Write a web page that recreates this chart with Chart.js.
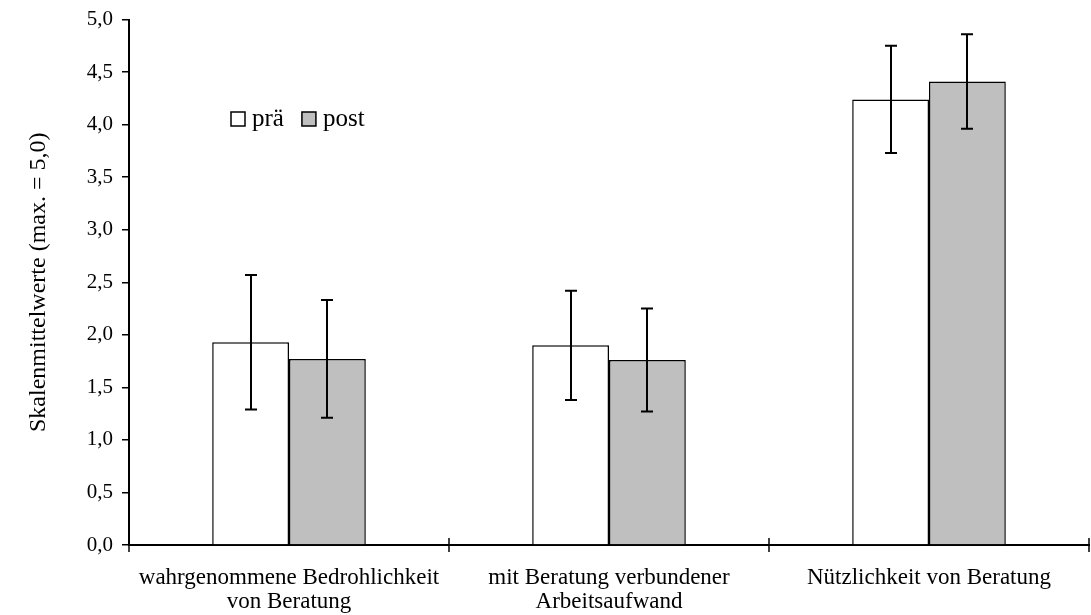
<!DOCTYPE html>
<html>
<head>
<meta charset="utf-8">
<script src="https://cdn.jsdelivr.net/npm/chart.js@4/dist/chart.umd.min.js"></script>
<style>
  html, body { margin: 0; padding: 0; background: #ffffff; }
  #wrap { width: 1091px; height: 615px; }
</style>
</head>
<body>
<div id="wrap"><canvas id="c" width="1091" height="615"></canvas></div>
<script>
const categories = [
  ["wahrgenommene Bedrohlichkeit", "von Beratung"],
  ["mit Beratung verbundener", "Arbeitsaufwand"],
  "Nützlichkeit von Beratung"
];
const seriesLabels = ["prä", "post"];
const praeMeans = [1.93, 1.90, 4.24];
const praeSD    = [0.64, 0.52, 0.51];
const postMeans = [1.77, 1.76, 4.41];
const postSD    = [0.56, 0.49, 0.45];
const yTickMin = 0, yTickMax = 5, yTickStep = 0.5;

const FONT = "'Liberation Serif', 'Times New Roman', serif";

const errorBarPlugin = {
  id: 'errorBars',
  afterDatasetsDraw(chart) {
    const ctx = chart.ctx;
    const y = chart.scales.y;
    ctx.save();
    ctx.strokeStyle = '#000';
    ctx.lineWidth = 2;
    chart.data.datasets.forEach((ds, i) => {
      const meta = chart.getDatasetMeta(i);
      meta.data.forEach((bar, j) => {
        const m = ds.data[j], s = ds.sd[j];
        const x = Math.round(bar.x);
        const yt = y.getPixelForValue(m + s);
        const yb = y.getPixelForValue(m - s);
        ctx.beginPath();
        ctx.moveTo(x, yt); ctx.lineTo(x, yb);
        ctx.moveTo(x - 6, yt); ctx.lineTo(x + 6, yt);
        ctx.moveTo(x - 6, yb); ctx.lineTo(x + 6, yb);
        ctx.stroke();
      });
    });
    ctx.restore();
  }
};

const crossTickPlugin = {
  id: 'crossTicks',
  afterDraw(chart) {
    const ctx = chart.ctx;
    const xs = chart.scales.x;
    const y0 = chart.chartArea.bottom;
    ctx.save();
    ctx.strokeStyle = '#000';
    ctx.lineWidth = 1.5;
    for (let i = 0; i <= categories.length; i++) {
      const px = Math.round(xs.getPixelForValue(i - 0.5));
      ctx.beginPath();
      ctx.moveTo(px, y0 - 7);
      ctx.lineTo(px, y0 + 7);
      ctx.stroke();
    }
    ctx.restore();
  }
};

const legendPlugin = {
  id: 'innerLegend',
  afterDraw(chart) {
    const ctx = chart.ctx;
    ctx.save();
    ctx.font = "25px " + FONT;
    ctx.textBaseline = 'middle';
    let x = 231;
    const yc = 119;
    chart.data.datasets.forEach((ds) => {
      ctx.fillStyle = ds.backgroundColor;
      ctx.fillRect(x, yc - 7, 14, 14);
      ctx.strokeStyle = '#000';
      ctx.lineWidth = 1.5;
      ctx.strokeRect(x, yc - 7, 14, 14);
      ctx.fillStyle = '#000';
      ctx.fillText(ds.label, x + 21, yc);
      x += 21 + ctx.measureText(ds.label).width + 18;
    });
    ctx.restore();
  }
};

new Chart(document.getElementById('c'), {
  type: 'bar',
  data: {
    labels: categories,
    datasets: [
      { label: seriesLabels[0], data: praeMeans, sd: praeSD,
        backgroundColor: '#ffffff', borderColor: '#000', borderWidth: 1.5 },
      { label: seriesLabels[1], data: postMeans, sd: postSD,
        backgroundColor: '#bfbfbf', borderColor: '#000', borderWidth: 1.5 }
    ]
  },
  options: {
    responsive: false,
    animation: false,
    devicePixelRatio: 1,
    layout: { padding: { top: 0, right: 2, left: 0, bottom: 0 } },
    datasets: { bar: { barPercentage: 1.0, categoryPercentage: 0.48 } },
    plugins: { legend: { display: false }, tooltip: { enabled: false } },
    scales: {
      x: {
        grid: { display: false, offset: true },
        border: { color: '#000', width: 2 },
        ticks: { color: '#000', font: { family: FONT, size: 23, lineHeight: 1.05 }, padding: 13, maxRotation: 0, autoSkip: false },
        afterFit(scale) { scale.height = 70; }
      },
      y: {
        min: yTickMin, max: yTickMax,
        grid: { display: true, drawOnChartArea: false, drawTicks: true, tickLength: 7, color: '#000', lineWidth: 1.5 },
        border: { color: '#000', width: 2 },
        ticks: {
          stepSize: yTickStep, color: '#000', padding: 9,
          font: { family: FONT, size: 21, lineHeight: 1.0 },
          callback: (v) => Number(v).toFixed(1).replace('.', ',')
        },
        title: { display: true, text: 'Skalenmittelwerte (max. = 5,0)', color: '#000',
                 font: { family: FONT, size: 24 }, padding: { top: 24, bottom: 0 } },
        afterFit(scale) { scale.width = 129; }
      }
    }
  },
  plugins: [errorBarPlugin, crossTickPlugin, legendPlugin]
});
</script>
</body>
</html>
